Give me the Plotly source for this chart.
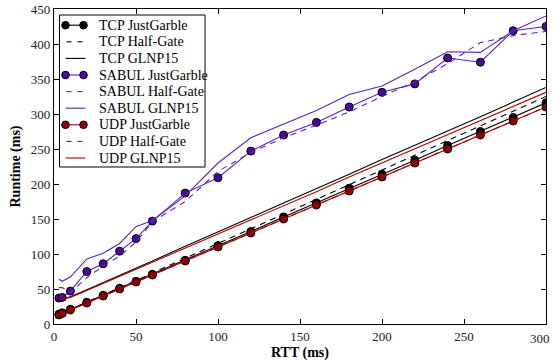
import plotly.graph_objects as go

rtt = [3, 5, 10, 20, 30, 40, 50, 60, 80, 100, 120, 140, 160, 180, 200, 220, 240, 260, 280, 300]

tcp_jg = [14, 16, 21, 31, 41, 51, 61, 71, 91, 112, 132, 153, 173, 194, 214, 234, 255, 275, 295, 316]
tcp_hg = [14, 16, 21, 31, 42, 52, 62, 73, 94, 115, 136, 157, 178, 199, 220, 241, 262, 283, 304, 325]
tcp_gl = [35, 36, 39, 49, 59, 70, 80, 90, 111, 131, 152, 173, 193, 214, 235, 255, 276, 296, 317, 338]

sabul_jg = [37, 38, 47, 75, 86, 104, 122, 147, 187, 209, 247, 270, 288, 310, 331, 343, 380, 374, 419, 425]
sabul_hg = [52, 52, 45, 66, 83, 97, 117, 146, 175, 218, 245, 266, 284, 303, 325, 346, 372, 402, 412, 418]
sabul_gl = [64, 61, 67, 93, 101, 115, 139, 148, 183, 230, 266, 285, 305, 328, 340, 364, 389, 388, 419, 440]

udp_jg = [13, 15, 20, 30, 40, 50, 60, 70, 90, 110, 130, 150, 170, 190, 210, 230, 250, 270, 290, 310]
udp_hg = [13, 15, 20, 30, 40, 50, 60, 70, 90, 110, 130, 150, 170, 190, 210, 230, 250, 270, 290, 310]
udp_gl = [35, 36, 38, 48, 58, 68, 78, 88, 108, 128, 149, 169, 189, 210, 230, 250, 270, 290, 311, 331]

x_ticks = [0, 50, 100, 150, 200, 250, 300]
y_ticks = [0, 50, 100, 150, 200, 250, 300, 350, 400, 450]

series_names = ["TCP JustGarble", "TCP Half-Gate", "TCP GLNP15",
                "SABUL JustGarble", "SABUL Half-Gate", "SABUL GLNP15",
                "UDP JustGarble", "UDP Half-Gate", "UDP GLNP15"]

BLACK = "#000000"
PURPLE_LINE = "#5c22c4"
PURPLE_MK = "#4a0a9a"
RED_LINE = "#b00000"
RED_MK = "#8f0000"
DASH = "6px,5px"

styles = [
    (tcp_jg, BLACK, BLACK, "solid"),
    (tcp_hg, BLACK, None, DASH),
    (tcp_gl, BLACK, None, "solid"),
    (sabul_jg, PURPLE_LINE, PURPLE_MK, "solid"),
    (sabul_hg, PURPLE_LINE, None, DASH),
    (sabul_gl, PURPLE_LINE, None, "solid"),
    (udp_jg, RED_LINE, RED_MK, "solid"),
    (udp_hg, RED_LINE, None, DASH),
    (udp_gl, RED_LINE, None, "solid"),
]

fig = go.Figure()
for name, (y, color, mk, dash) in zip(series_names, styles):
    if mk is not None:
        fig.add_trace(go.Scatter(
            x=rtt, y=y, name=name, mode="lines+markers", showlegend=False,
            line=dict(color=color, width=1.1),
            marker=dict(size=8, color=mk, line=dict(color="black", width=1)),
        ))
    else:
        fig.add_trace(go.Scatter(
            x=rtt, y=y, name=name, mode="lines", showlegend=False,
            line=dict(color=color, width=1.1, dash=dash),
        ))

# ---- layout geometry (pixels) ----
W, H = 553, 362
ML, MR, MT, MB = 54, 7, 9, 38
PW, PH = W - ML - MR, H - MT - MB

def px(xp):
    return (xp - ML) / PW

def py(yp):
    return (H - MB - yp) / PH

font = "Liberation Serif"

shapes = []
annotations = []
# legend box
shapes.append(dict(type="rect", xref="paper", yref="paper", layer="above",
                   x0=px(59.5), x1=px(205), y0=py(167), y1=py(15),
                   line=dict(color="black", width=1), fillcolor="white"))
row0, step = 25.2, 16.6
hx0, hx1 = 65.5, 83.5
for i, (name, (y, color, mk, dash)) in enumerate(zip(series_names, styles)):
    yc = row0 + i * step
    if dash == DASH:
        for a, b in [(hx0 + 1, hx0 + 6), (hx1 - 6, hx1 - 1)]:
            shapes.append(dict(type="line", xref="paper", yref="paper", layer="above",
                               x0=px(a), x1=px(b), y0=py(yc), y1=py(yc),
                               line=dict(color=color, width=1.1)))
    else:
        shapes.append(dict(type="line", xref="paper", yref="paper", layer="above",
                           x0=px(hx0), x1=px(hx1 + (0 if mk else 2)),
                           y0=py(yc), y1=py(yc),
                           line=dict(color=color, width=1.1)))
    if mk is not None:
        for cx in (hx0, hx1):
            shapes.append(dict(type="circle", xref="paper", yref="paper", layer="above",
                               xsizemode="pixel", ysizemode="pixel",
                               xanchor=px(cx), yanchor=py(yc),
                               x0=-3.8, x1=3.8, y0=-3.8, y1=3.8,
                               line=dict(color="black", width=1), fillcolor=mk))
    annotations.append(dict(xref="paper", yref="paper", x=px(97), y=py(yc),
                            xanchor="left", yanchor="middle", showarrow=False,
                            text=name, font=dict(family=font, size=14, color="black")))

# last x tick label, nudged so it stays inside the page
x_ticktext = [str(v) for v in x_ticks[:-1]] + [""]
annotations.append(dict(xref="paper", yref="paper", x=px(552), y=py(H - MB + 5),
                        xanchor="right", yanchor="top", showarrow=False,
                        text=str(x_ticks[-1]), xshift=0,
                        font=dict(family=font, size=13, color="#222")))

axis_common = dict(
    showgrid=False, zeroline=False, showline=True, linecolor="black", linewidth=1.2,
    mirror="ticks", ticks="inside", ticklen=5, tickcolor="black", tickwidth=1,
    tickfont=dict(family=font, size=13, color="#222"),
    automargin=False,
)

fig.update_layout(
    width=W, height=H,
    margin=dict(l=ML, r=MR, t=MT, b=MB),
    paper_bgcolor="white", plot_bgcolor="white",
    font=dict(family=font, size=13, color="black"),
    xaxis=dict(range=[0, 300], tickvals=x_ticks, ticktext=x_ticktext,
               title=dict(text="<b>RTT (ms)</b>", font=dict(family=font, size=14), standoff=4),
               **axis_common),
    yaxis=dict(range=[0, 450], tickvals=y_ticks,
               title=dict(text="<b>Runtime (ms)</b>", font=dict(family=font, size=14), standoff=6),
               **axis_common),
    shapes=shapes,
    annotations=annotations,
    showlegend=False,
)

fig.write_html("out.html")
